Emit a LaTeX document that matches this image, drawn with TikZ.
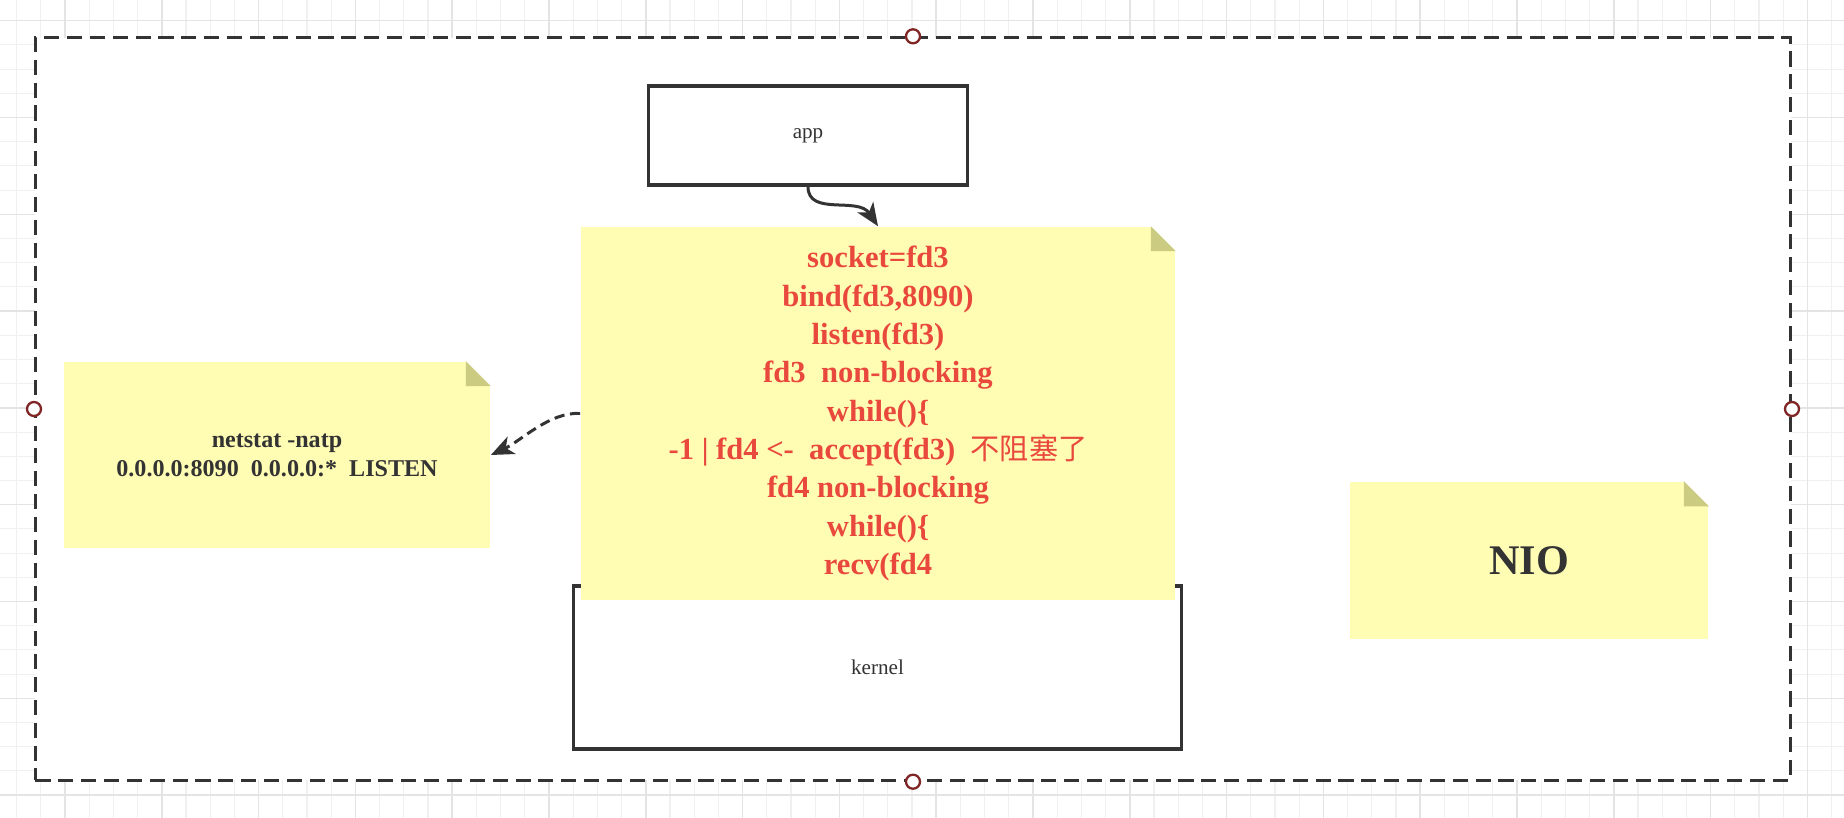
\documentclass[tikz,border=0pt]{standalone}
\usepackage{fontspec}
\setmainfont{Liberation Serif}
\newfontfamily\cjk{Noto Sans CJK SC}
\usetikzlibrary{arrows.meta}

\definecolor{notefill}{RGB}{255,252,180}
\definecolor{foldcol}{RGB}{204,203,130}
\definecolor{notered}{RGB}{233,72,60}
\definecolor{linecol}{RGB}{51,51,51}
\definecolor{handlecol}{RGB}{128,38,38}
\definecolor{gridminor}{RGB}{240,240,240}
\definecolor{gridmajor}{RGB}{228,228,228}

\tikzset{
  frame/.style={draw=linecol, fill=white, line width=0.85pt, dash pattern=on 4.3pt off 2.2pt, inner sep=0pt},
  handle/.style={circle, draw=handlecol, fill=white, line width=0.65pt, minimum size=0.14cm, inner sep=0pt},
  box/.style={draw=linecol, fill=white, line width=0.9pt, inner sep=0pt, text=linecol, font=\fontsize{6}{7}\selectfont},
  note/.style={fill=notefill, inner sep=0pt, align=center},
  conn/.style={draw=linecol, line width=0.85pt, -{Stealth[length=6.5pt, width=5.4pt, inset=1.8pt]}},
  dconn/.style={conn, dash pattern=on 2.9pt off 1.6pt}
}

% folded top-right corner of a note
\newcommand{\notefold}[1]{
  \fill[white] (#1.north east) -- ++(-25,0) -- ++(25,25) -- cycle;
  \fill[foldcol] (#1.north east) ++(-25,0) -- ++(0,25) -- ++(25,0) -- cycle;
}

\begin{document}
\begin{tikzpicture}[x=0.01cm, y=-0.01cm]
\useasboundingbox (0,0) rectangle (1844,818);
\fill[white] (0,0) rectangle (1844,818);

% background grid
  \foreach \i in {-2,...,73} {
    \draw[gridminor, line width=0.3pt] ({65+24.2*\i},0) -- ({65+24.2*\i},818);
  }
  \foreach \i in {0,...,32} {
    \draw[gridminor, line width=0.3pt] (0,{20.7+24.2*\i}) -- (1844,{20.7+24.2*\i});
  }
  \foreach \i in {0,...,18} {
    \draw[gridmajor, line width=0.45pt] ({65+96.8*\i},0) -- ({65+96.8*\i},818);
  }
  \foreach \i in {0,...,8} {
    \draw[gridmajor, line width=0.45pt] (0,{20.7+96.8*\i}) -- (1844,{20.7+96.8*\i});
  }

% selection frame
\node[frame, minimum width=17.54cm, minimum height=7.42cm] (frame) at (913,409) {};

% boxes
\node[box, minimum width=6.07cm, minimum height=1.63cm] (kernel) at (877.5,667.5) {kernel};
\node[box, minimum width=3.18cm, minimum height=0.99cm] (app) at (808,135.5) {app};

% notes
\node[note, minimum width=5.94cm, minimum height=3.73cm, text=notered,
  font=\fontsize{8.7}{10.9}\selectfont\bfseries] (sysnote) at (878,413.5)
  {socket=fd3\\bind(fd3,8090)\\listen(fd3)\\fd3~~non-blocking\\while()\{\\
   -1 | fd4 <-~~accept(fd3)~~{\cjk\mdseries\fontsize{8.3}{10.9}\selectfont 不阻塞了}\\
   fd4 non-blocking\\while()\{\\recv(fd4};
\notefold{sysnote}

\node[note, minimum width=4.26cm, minimum height=1.86cm, text=linecol,
  font=\fontsize{6.85}{8.3}\selectfont\bfseries] (listen) at (277,455)
  {netstat -natp\\0.0.0.0:8090~~0.0.0.0:*~~LISTEN};
\notefold{listen}

\node[note, minimum width=3.58cm, minimum height=1.57cm, text=linecol,
  font=\fontsize{12}{14}\selectfont\bfseries] (nio) at (1529,560.5) {NIO};
\notefold{nio}

% connectors
\draw[conn] (app.south) .. controls +(0,30) and +(-20,-30) .. (sysnote.north);
\draw[dconn] (sysnote.west) .. controls +(-30,-2) and +(30,-14) .. (listen.east);

% frame handles
\foreach \a in {north,south,east,west} {
  \node[handle] (h-\a) at (frame.\a) {};
}
\end{tikzpicture}
\end{document}
